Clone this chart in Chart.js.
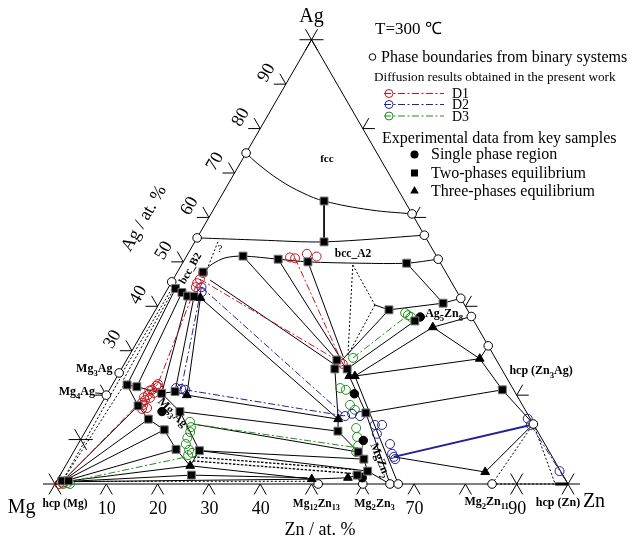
<!DOCTYPE html>
<html><head><meta charset="utf-8">
<script src="https://cdn.jsdelivr.net/npm/chart.js@4.4.1/dist/chart.umd.min.js"></script>
<style>html,body{margin:0;padding:0;background:#fff}#wrap{width:644px;height:543px;position:relative}</style>
</head><body><div id="wrap"><canvas id="c" width="644" height="543"></canvas></div>
<script>
// ===== DATA: compositions as [Zn at.%, Ag at.%] (Mg = balance) =====
const fccBoundary = [[0,74.5],[3.3,72.2],[9.6,68.4],[15.6,65.5],[20.6,63.7],[30.6,61.7],[39.2,60.8]];
const a2Upper = [[0,55.4],[12.5,54.9],[25.2,54.5],[44.0,56.0]];
const a2Lower = [[5.0,47.7],[5.9,49.5],[7.7,50.9],[11.0,51.3],[18.2,50.6],[24.3,50.0],[34.6,49.7],[43.7,49.7],[49.4,50.6]];
const solidLines = [
 [[20.6,63.7],[25.2,54.5]],
 [[11.0,51.3],[41.0,27.9]],[[18.2,50.6],[41.4,28.4]],[[24.3,50.0],[41.9,28.6]],
 [[43.7,49.7],[55.3,40.7]],[[45.5,39.2],[55.3,40.7],[58.2,41.8]],[[42.2,40.3],[45.5,39.2]],
 [[45.5,39.2],[42.0,27.9]],[[51.8,36.7],[44.0,25.9]],[[56.0,35.3],[46.3,24.3]],
 [[56.0,35.3],[62.3,37.7]],[[56.0,35.3],[68.7,28.2]],[[46.3,24.3],[68.7,28.2]],
 [[68.7,28.2],[68.9,31.1]],[[68.7,28.2],[76.6,21.2],[86.5,13.5]],[[52.6,16.0],[76.6,21.2]],
 [[63.0,6.1],[82.5,2.7],[86.5,13.5]],
 [[46.3,24.3],[66.9,0]],[[45.2,24.3],[52.6,16.0],[65.3,0]],
 [[41.0,27.9],[41.6,25.9],[47.9,14.6],[49.2,11.9],[55.5,7.2],[57.4,5.6],[59.5,2.9],[65.3,0]],
 [[44.0,25.9],[45.2,24.3]],
 [[49.5,1.1],[56.4,1.4],[57.9,2.0],[59.5,2.9]],[[57.9,2.0],[60.0,0]],[[49.5,1.1],[51.3,0]],
 [[1.5,44.0],[2.9,22.3]],[[3.2,43.1],[5.0,21.9]],[[4.7,42.3],[10.6,20.4]],[[6.0,42.2],[13.0,20.8]],
 [[7.4,41.9],[15.7,20.0]],[[7.4,41.9],[47.9,14.6]],[[7.3,45.9],[41.2,26.8]],
 [[2.9,22.3],[5.0,21.9],[10.6,20.4],[13.0,20.8],[15.7,20.0]],
 [[2.9,22.3],[7.4,17.6],[10.9,14.6],[15.2,12.2],[19.7,7.8],[24.3,4.1]],
 [[10.6,20.4],[16.2,16.3],[24.4,7.5],[24.3,4.1]],
 [[1.1,0.5],[7.4,17.6]],[[1.1,0.5],[10.9,14.6]],[[1.1,0.5],[15.2,12.2]],[[1.1,0.5],[19.7,7.8]],
 [[1.1,0.5],[24.3,4.1]],[[1.1,0.5],[25.6,2.0]],[[1.1,0.5],[49.5,1.1]],
 [[15.7,20.0],[47.9,14.6]],[[16.2,16.3],[49.2,11.9]],[[20.2,13.5],[55.5,7.2]],
 [[24.4,7.5],[57.4,5.6]],[[24.4,7.5],[59.5,2.9]],[[24.3,4.1],[49.5,1.1]],[[25.6,2.0],[48.5,1.4]],
 [[-2.4,20.5],[-0.4,20.3]]
];
const dottedLines = [
 [[33.4,49.3],[42.6,29.0]],[[33.4,49.3],[42.2,40.3]],[[42.2,40.3],[42.6,29.0]],
 [[85.2,0],[86.5,13.5]],[[86.5,13.5],[97.5,0]],[[85.2,0],[97.5,0]],
 [[4.5,54.5],[5.5,48.2]],
 [[0.8,44.8],[0.6,24.6]],[[1.2,44.4],[1.6,23.5]],[[1.1,0.5],[0.8,24.2]],[[1.1,0.5],[2.3,22.6]],
 [[2.0,0.6],[49.5,0.6]]
];
const dashedLines = [[[23.9,6.1],[57.3,3.2]],[[24.3,5.2],[57.7,2.3]]];
const thickLines = [[[97.5,0],[100,0]]];
const d1Path = [[[1.1,0.3],[8.8,22.5],[5.1,45.2]],[[5.2,46.1],[41.8,27.5]],[[21.4,50.8],[42.6,27.0]]];
const d2Path = [[[6.4,44.3],[13.9,21.4]],[[14.8,21.2],[48.9,15.3]],[[6.4,44.3],[48.9,15.3]],[[86.1,13.3],[100,0]]];
const d2Solid = [[[63.0,6.1],[86.1,13.3]]];
const d3Path = [[[2.2,0.4],[22.6,6.1]],[[20.2,13.5],[53.9,8.3]],[[43.9,28.4],[49.8,38.0]]];

const binaryPoints = [[0,74.5],[0,55.4],[0,45.5],[0,25],[0,20],[39.2,60.8],[44.0,56.0],[49.4,50.6],[58.2,41.8],[62.3,37.7],[68.9,31.1],[86.5,13.5],[51.3,0],[60.0,0],[65.3,0],[66.9,0],[85.2,0]];
const singlePhase = [[12.7,16.3],[52.4,37.6],[48.2,20.3],[55.2,9.8],[59.2,1.4]];
const twoPhase = [[20.6,63.7],[25.2,54.5],[11.0,51.3],[18.2,50.6],[24.3,50.0],[43.7,49.7],[5.0,47.7],[1.5,44.0],[3.2,43.1],[4.7,42.3],[6.0,42.2],[2.9,22.3],[5.0,21.9],[10.6,20.4],[13.0,20.8],[7.4,17.6],[16.2,16.3],[10.9,14.6],[15.2,12.2],[19.7,7.8],[24.4,7.5],[25.6,2.0],[1.0,0.7],[2.3,0.7],[41.0,27.9],[41.6,25.9],[44.0,25.9],[45.5,39.2],[55.3,40.7],[51.8,36.7],[76.6,21.2],[52.6,16.0],[49.2,11.9],[55.5,7.2],[57.4,5.6],[59.5,2.9],[57.9,2.0]];
const threePhase = [[7.4,41.9],[15.7,20.0],[24.3,4.1],[45.2,24.3],[46.3,24.3],[56.0,35.3],[68.7,28.2],[47.9,14.6],[82.5,2.7],[49.5,1.1],[56.4,1.4]];
const d1Points = [[0.8,0],[1.4,0.3],[8.7,22.1],[8.3,21.2],[8.1,20.0],[8.1,18.9],[8.3,17.8],[9.4,17.1],[8.8,22.5],[8.8,19.4],[7.6,19.5],[7.9,21.0],[9.0,20.5],[7.8,18.3],[9.2,21.8],[8.5,16.9],[5.1,45.2],[5.2,46.1],[5.1,47.5],[5.3,44.3],[20.3,51.0],[21.4,50.8],[23.2,51.8],[25.4,51.2],[41.8,27.5],[42.6,27.0]];
const d2Points = [[6.4,44.3],[7.0,43.2],[12.8,21.6],[13.9,21.4],[14.8,21.2],[48.9,15.3],[50.0,15.8],[51.8,15.3],[55.7,13.3],[57.1,13.3],[57.1,11.3],[60.8,9.0],[62.3,6.8],[63.5,5.6],[63.0,6.1],[84.8,14.7],[86.1,13.3],[96.9,2.9]];
const d3Points = [[1.6,0],[2.3,0.2],[2.9,0],[19.3,14.0],[20.1,12.8],[20.5,11.7],[20.6,10.4],[21.0,9.0],[22.3,7.7],[23.2,7.0],[22.7,6.5],[44.8,21.6],[46.1,21.2],[48.6,17.8],[50.1,16.7],[52.4,12.6],[53.6,10.6],[54.8,8.6],[55.1,7.2],[43.9,28.4],[49.8,38.0],[49.0,38.5],[50.6,37.6]];

const leftTicks = [10,20,30,40,50,60,70,80,90];
const leftTickLabels = ['30','40','50','60','70','80','90'];
const bottomTicks = [10,20,30,40,50,60,70,80,90];
const bottomTickLabels = ['10','20','30','40','70','90'];
const rightTicks = [20,40,60,80];
const crossLeft = [10], crossBottom = [90];

const phaseLabels = [
 {t:['fcc'], at:[16.3,73.4], size:11},
 {t:['bcc_A2'], at:[32.1,52.0], size:11.5},
 {t:['bcc_B2'], at:[2.0,48.6], size:11, rot:-60},
 {t:['?'], at:[5.6,53.1], size:11, normal:true},
 {t:['Ag','5','Zn','8'], at:[56.6,38.5], size:12},
 {t:['hcp (Zn','3','Ag)'], at:[81.9,25.7], size:12},
 {t:['MgZn','2'], at:[60.8,5.4], size:12, rot:68},
 {t:['Mg','3','Ag'], at:[14.9,16.2], size:12, rot:45},
 {t:['Mg','3','Ag'], at:[-5.4,26.1], size:12},
 {t:['Mg','4','Ag'], at:[-6.2,20.9], size:12},
 {t:['hcp (Mg)'], at:[4.1,-4.3], size:11.5},
 {t:['Mg','12','Zn','13'], at:[53.1,-4.3], size:11.5},
 {t:['Mg','2','Zn','3'], at:[64.4,-4.2], size:12},
 {t:['Mg','2','Zn','11'], at:[86.1,-3.9], size:12},
 {t:['hcp (Zn)'], at:[100.1,-4.1], size:12}
];

// ===== BUILD =====
const H = Math.sqrt(3)/2;
const L = 2.35; // tick length in composition units
const xy = c => ({x: c[0] + c[1]/2, y: c[1]*H});
const datasets = [];
function pts(arr, st){ datasets.push(Object.assign({data: arr.map(xy), showLine:false, borderWidth:1, clip:false}, st)); }
function polyXY(arr, st){ datasets.push(Object.assign({data: arr, showLine:true, pointRadius:0, pointHoverRadius:0, borderColor:'#000', borderWidth:1, fill:false, tension:0, clip:false}, st)); }
function poly(arr, st){ polyXY(arr.map(xy), st); }

const dashDot = [7,2.5,2,2.5];
pts(threePhase, {pointStyle:'triangle', pointRadius:5, backgroundColor:'#000', borderColor:'#000'});
pts(twoPhase, {pointStyle:'rect', pointRadius:5.6, backgroundColor:'#000', borderColor:'#777'});
pts(singlePhase, {pointStyle:'circle', pointRadius:4.2, backgroundColor:'#000', borderColor:'#000'});
pts(binaryPoints, {pointStyle:'circle', pointRadius:4.3, backgroundColor:'#fff', borderColor:'#000'});
pts(d1Points, {pointStyle:'circle', pointRadius:4.5, backgroundColor:'rgba(0,0,0,0)', borderColor:'#c8141c'});
pts(d2Points, {pointStyle:'circle', pointRadius:4.5, backgroundColor:'rgba(0,0,0,0)', borderColor:'#23238f'});
pts(d3Points, {pointStyle:'circle', pointRadius:4.5, backgroundColor:'rgba(0,0,0,0)', borderColor:'#1f8f1f'});
d1Path.forEach(p=>poly(p,{borderColor:'#c8141c', borderDash:dashDot}));
d2Path.forEach(p=>poly(p,{borderColor:'#23238f', borderDash:dashDot}));
d2Solid.forEach(p=>poly(p,{borderColor:'#23238f', borderWidth:2}));
d3Path.forEach(p=>poly(p,{borderColor:'#1f8f1f', borderDash:dashDot}));
poly(fccBoundary,{tension:0.4});
poly(a2Upper,{tension:0.3});
poly(a2Lower,{tension:0.3});
solidLines.forEach(p=>poly(p));
dottedLines.forEach(p=>poly(p,{borderDash:[2,2]}));
dashedLines.forEach(p=>poly(p,{borderDash:[2.5,1.5], borderWidth:1.3}));
thickLines.forEach(p=>poly(p,{borderWidth:3}));
poly([[0,0],[100,0],[0,100],[0,0]]);
const dirH=[1,0], dirA=[0.5,H], dirB=[-0.5,H];
function seg(c, d, a, b){ const p=xy(c); polyXY([{x:p.x+d[0]*L*a,y:p.y+d[1]*L*a},{x:p.x+d[0]*L*b,y:p.y+d[1]*L*b}]); }
leftTicks.forEach(v=>{ const c=[0,v]; const ins = crossLeft.includes(v)?1:0; seg(c,dirH,-1,ins); seg(c,dirB,1,-ins); });
bottomTicks.forEach(v=>{ const c=[v,0]; const ins = crossBottom.includes(v)?1:0; seg(c,dirA,-1,ins); seg(c,dirB,-1,ins); });
rightTicks.forEach(v=>{ const c=[100-v,v]; seg(c,dirH,1,0); seg(c,dirA,1,0); });
[[0,0],[100,0],[0,100]].forEach(c=>{ seg(c,dirH,-1,1); seg(c,dirA,-1,1); seg(c,dirB,-1,1); });

const serif = '"Liberation Serif","Times New Roman",serif';
// draws text centred (vertically) at x,y; alphabetic baseline shifted by 0.34 em
function rich(ctx, parts, x, y, size, bold, align, rot){
  ctx.save(); ctx.translate(x,y); ctx.rotate((rot||0)*Math.PI/180);
  const w8 = bold?'bold ':'';
  const fnt = i => w8 + (i%2? size*0.72 : size) + 'px ' + serif;
  let w=0; parts.forEach((t,i)=>{ ctx.font=fnt(i); w+=ctx.measureText(t).width; });
  let cx = align==='left'?0:(align==='right'?-w:-w/2);
  const base = size*0.34;
  ctx.textBaseline='alphabetic'; ctx.textAlign='left'; ctx.fillStyle='#000';
  parts.forEach((t,i)=>{ ctx.font=fnt(i); ctx.fillText(t, cx, base + (i%2? size*0.3:0)); cx+=ctx.measureText(t).width; });
  ctx.restore();
}
const textPlugin = {
  id:'ternaryText',
  afterDatasetsDraw(chart){
    const ctx=chart.ctx, sx=chart.scales.x, sy=chart.scales.y;
    const P = c => [sx.getPixelForValue(c[0]+c[1]/2), sy.getPixelForValue(c[1]*H)];
    ctx.save();
    let p=P([0,0]); rich(ctx,['Mg'],p[0]-33.3,p[1]+22,20,false,'center');
    p=P([100,0]); rich(ctx,['Zn'],p[0]+26,p[1]+16.5,20,false,'center');
    p=P([0,100]); rich(ctx,['Ag'],p[0],p[1]-24.7,20,false,'center');
    leftTickLabels.forEach(s=>{ const q=P([0,+s]); rich(ctx,[s],q[0]-20.5,q[1]-12,18,false,'center',-60); });
    bottomTickLabels.forEach(s=>{ const q=P([+s,0]); rich(ctx,[s],q[0]+0.5,q[1]+24,18,false,'center'); });
    p=P([-12.8,59.9]); rich(ctx,['Ag / at. %'],p[0],p[1],18,false,'center',-60);
    p=P([56.7,-10.1]); rich(ctx,['Zn / at. %'],p[0],p[1],18,false,'center');
    phaseLabels.forEach(l=>{ const q=P(l.at); rich(ctx,l.t,q[0],q[1],l.size,!l.normal,'center',l.rot||0); });
    // legend
    rich(ctx,['T=300 \u2103'],375,28,17,false,'left');
    ctx.lineWidth=1; ctx.strokeStyle='#000'; ctx.fillStyle='#fff';
    ctx.beginPath(); ctx.arc(372.5,57,3.3,0,2*Math.PI); ctx.fill(); ctx.stroke();
    rich(ctx,['Phase boundaries from binary systems'],381,57,16,false,'left');
    rich(ctx,['Diffusion results obtained in the present work'],374,77,13.2,false,'left');
    const dcols=['#c8141c','#23238f','#1f8f1f'], dys=[93.5,104.5,116], dn=['D1','D2','D3'];
    dcols.forEach((c,i)=>{
      ctx.strokeStyle=c; ctx.lineWidth=1; ctx.setLineDash(dashDot);
      ctx.beginPath(); ctx.moveTo(384,dys[i]); ctx.lineTo(444,dys[i]); ctx.stroke(); ctx.setLineDash([]);
      ctx.beginPath(); ctx.arc(389,dys[i],4,0,2*Math.PI); ctx.stroke();
      rich(ctx,[dn[i]],452,dys[i],14,false,'left');
    });
    rich(ctx,['Experimental data from key samples'],382,138,16,false,'left');
    ctx.fillStyle='#000';
    ctx.beginPath(); ctx.arc(414.5,154.5,4,0,2*Math.PI); ctx.fill();
    ctx.fillRect(411,169.5,7,7);
    ctx.beginPath(); ctx.moveTo(414.5,186); ctx.lineTo(418.8,193.5); ctx.lineTo(410.2,193.5); ctx.closePath(); ctx.fill();
    rich(ctx,['Single phase region'],431,154,16,false,'left');
    rich(ctx,['Two-phases equilibrium'],431,173,16,false,'left');
    rich(ctx,['Three-phases equilibrium'],431,190.5,16,false,'left');
    ctx.restore();
  }
};

new Chart(document.getElementById('c'), {
  type:'scatter',
  data:{datasets},
  options:{
    responsive:false, animation:false, devicePixelRatio:1,
    layout:{padding:0, autoPadding:false},
    plugins:{legend:{display:false}, tooltip:{enabled:false}},
    events:[],
    scales:{
      x:{type:'linear', display:false, min:-55/5.13, max:(644-55)/5.13},
      y:{type:'linear', display:false, min:-(543-484)/5.13, max:484/5.13}
    }
  },
  plugins:[textPlugin]
});
</script>
</body></html>
